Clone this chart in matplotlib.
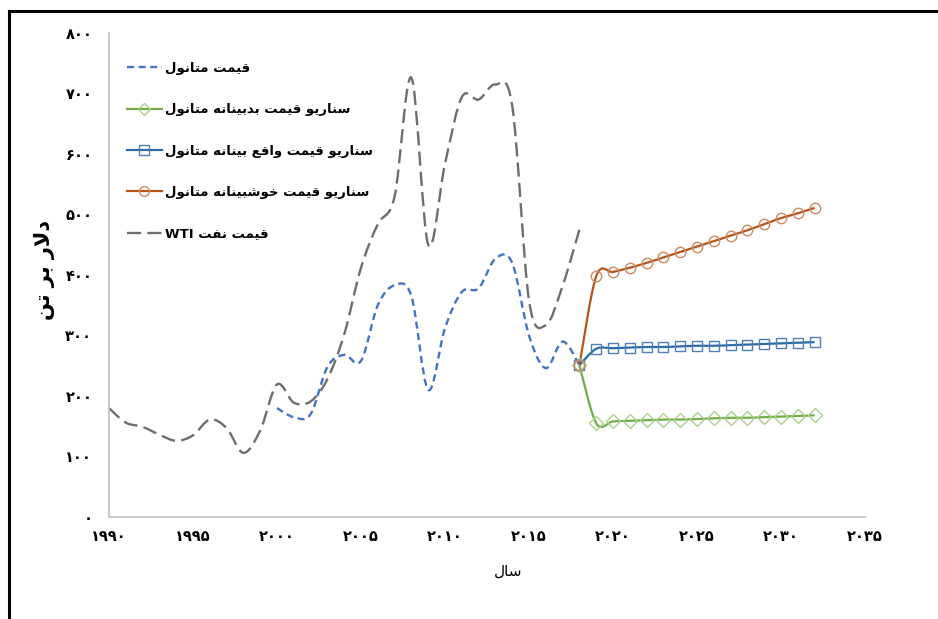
import matplotlib

matplotlib.use("Agg")
import matplotlib.pyplot as plt
import numpy as np
from matplotlib.lines import Line2D
from matplotlib.patches import PathPatch
from matplotlib.path import Path

# --- data ($/tonne) -------------------------------------------------------
hist_years = list(range(1990, 2019))
wti = [180, 156, 149, 136, 126, 135, 161, 147, 106, 143,
       219, 189, 191, 228, 302, 412, 484, 530, 726, 450,
       584, 694, 690, 715, 680, 358, 317, 382, 475]
methanol_years = list(range(2000, 2019))
methanol = [180, 165, 170, 248, 268, 258, 350, 383, 365, 210,
            312, 372, 378, 427, 420, 300, 246, 290, 251]
scenario_years = list(range(2018, 2033))
pessimistic = [251, 155, 158, 159, 160, 161, 161, 162, 163, 164, 164, 165, 166, 167, 168]
realistic = [251, 278, 279, 280, 281, 281, 282, 283, 283, 284, 285, 286, 287, 288, 289]
optimistic = [251, 398, 405, 412, 420, 429, 438, 447, 456, 465, 474, 484, 494, 502, 511]

x_ticks = [1990, 1995, 2000, 2005, 2010, 2015, 2020, 2025, 2030, 2035]
y_ticks = [0, 100, 200, 300, 400, 500, 600, 700, 800]

lbl_methanol = "قیمت متانول"
lbl_pess = "سناریو قیمت بدبینانه متانول"
lbl_real = "سناریو قیمت واقع بینانه متانول"
lbl_opt = "سناریو قیمت خوشبینانه متانول"
lbl_wti = "قیمت نفت WTI"
x_title = "سال"
y_title = "دلار بر تن"

C_METH = "#4472C4"
C_PESS = "#70AD47"
C_REAL = "#2E6AA6"
C_OPT = "#B5551B"
C_WTI = "#6E6E6E"
C_AXIS = "#BFBFBF"

# --- minimal Arabic/Persian shaping (matplotlib has no text shaping) -------
# isolated, final, initial, medial presentation forms
FORMS = {
    "ا": (0xFE8D, 0xFE8E, None, None),
    "ب": (0xFE8F, 0xFE90, 0xFE91, 0xFE92),
    "ت": (0xFE95, 0xFE96, 0xFE97, 0xFE98),
    "خ": (0xFEA5, 0xFEA6, 0xFEA7, 0xFEA8),
    "د": (0xFEA9, 0xFEAA, None, None),
    "ر": (0xFEAD, 0xFEAE, None, None),
    "س": (0xFEB1, 0xFEB2, 0xFEB3, 0xFEB4),
    "ش": (0xFEB5, 0xFEB6, 0xFEB7, 0xFEB8),
    "ع": (0xFEC9, 0xFECA, 0xFECB, 0xFECC),
    "ف": (0xFED1, 0xFED2, 0xFED3, 0xFED4),
    "ق": (0xFED5, 0xFED6, 0xFED7, 0xFED8),
    "ل": (0xFEDD, 0xFEDE, 0xFEDF, 0xFEE0),
    "م": (0xFEE1, 0xFEE2, 0xFEE3, 0xFEE4),
    "ن": (0xFEE5, 0xFEE6, 0xFEE7, 0xFEE8),
    "ه": (0xFEE9, 0xFEEA, 0xFEEB, 0xFEEC),
    "و": (0xFEED, 0xFEEE, None, None),
    "ی": (0xFBFC, 0xFBFD, 0xFBFE, 0xFBFF),
}
LAM_ALEF = (0xFEFB, 0xFEFC)


def _shape_word(word):
    out = []
    i = 0
    prev_joins = False
    while i < len(word):
        ch = word[i]
        if ch not in FORMS:
            out.append(ch)
            prev_joins = False
            i += 1
            continue
        if ch == "ل" and i + 1 < len(word) and word[i + 1] == "ا":
            out.append(chr(LAM_ALEF[1] if prev_joins else LAM_ALEF[0]))
            prev_joins = False
            i += 2
            continue
        iso, fin, ini, med = FORMS[ch]
        nxt = word[i + 1] if i + 1 < len(word) else None
        next_ok = ini is not None and nxt in FORMS
        if prev_joins and next_ok:
            out.append(chr(med))
        elif prev_joins:
            out.append(chr(fin))
        elif next_ok:
            out.append(chr(ini))
        else:
            out.append(chr(iso))
        prev_joins = next_ok
        i += 1
    return "".join(reversed(out))


def fa(text):
    """Return text in visual (left-to-right) order with joined letter forms."""
    words = []
    for w in text.split(" "):
        if any(c in FORMS for c in w):
            words.append(_shape_word(w))
        else:
            words.append(w)
    return " ".join(reversed(words))


def fa_digits(n):
    return str(n).translate(str.maketrans("0123456789", "۰۱۲۳۴۵۶۷۸۹"))


def smooth_path(xs, ys):
    # Bezier through every point, control points from neighbouring slopes
    pts = np.column_stack([xs, ys]).astype(float)
    n = len(pts)
    verts, codes = [pts[0]], [Path.MOVETO]
    for i in range(n - 1):
        p0 = pts[i - 1] if i > 0 else pts[i]
        p1, p2 = pts[i], pts[i + 1]
        p3 = pts[i + 2] if i + 2 < n else p2
        verts += [p1 + (p2 - p0) / 6, p2 - (p3 - p1) / 6, p2]
        codes += [Path.CURVE4] * 3
    return Path(verts, codes)


def add_curve(ax, xs, ys, color, ls, lw=1.6, z=2):
    ax.add_patch(PathPatch(smooth_path(xs, ys), fill=False, edgecolor=color,
                           linestyle=ls, linewidth=lw, capstyle="butt", zorder=z))


plt.rcParams["font.family"] = ["DejaVu Sans"]

fig = plt.figure(figsize=(9.38, 6.19), dpi=100)
ax = fig.add_axes([0.1162, 0.1648, 0.8060, 0.7819])

WTI_DASH = (0, (6, 2.6))
METH_DASH = (0, (3, 1.9))

add_curve(ax, hist_years, wti, C_WTI, WTI_DASH, lw=1.7)
add_curve(ax, methanol_years, methanol, C_METH, METH_DASH, lw=1.7)
add_curve(ax, scenario_years, pessimistic, C_PESS, "-", z=3)
add_curve(ax, scenario_years, realistic, C_REAL, "-", z=3)
add_curve(ax, scenario_years, optimistic, C_OPT, "-", z=3)

mk = dict(linestyle="none", markerfacecolor="none", markersize=7.5, markeredgewidth=1.0, zorder=4)
ax.plot(scenario_years, pessimistic, marker="D", markeredgecolor="#A9D18E", **mk)
ax.plot(scenario_years, realistic, marker="s", markeredgecolor="#4F7FB5", **mk)
ax.plot(scenario_years, optimistic, marker="o", markeredgecolor="#CE8A62", **mk)

ax.set_xlim(1990, 2035)
ax.set_ylim(0, 800)
ax.set_xticks(x_ticks)
ax.set_xticklabels([fa_digits(v) for v in x_ticks], fontweight="bold", fontsize=10.5)
ax.set_yticks(y_ticks)
ax.set_yticklabels([fa_digits(v) for v in y_ticks], fontweight="bold", fontsize=10.5)
ax.tick_params(axis="both", length=0)
ax.tick_params(axis="x", pad=9)
ax.tick_params(axis="y", pad=12)
for s in ("top", "right"):
    ax.spines[s].set_visible(False)
for s in ("left", "bottom"):
    ax.spines[s].set_color(C_AXIS)
    ax.spines[s].set_linewidth(1.2)

ax.set_xlabel(fa(x_title), fontsize=11)
ax.xaxis.set_label_coords(0.5275, -0.0964)
ax.set_ylabel(fa(y_title), fontsize=15, fontweight="bold")
ax.yaxis.set_label_coords(-0.0714, 0.51)

handles = [
    Line2D([], [], color=C_METH, lw=1.7, linestyle=METH_DASH),
    Line2D([], [], color=C_PESS, lw=1.6, marker="D", markersize=6,
           markerfacecolor="none", markeredgecolor="#A9D18E"),
    Line2D([], [], color=C_REAL, lw=1.6, marker="s", markersize=7,
           markerfacecolor="none", markeredgecolor="#4F7FB5"),
    Line2D([], [], color=C_OPT, lw=1.6, marker="o", markersize=7,
           markerfacecolor="none", markeredgecolor="#CE8A62"),
    Line2D([], [], color=C_WTI, lw=1.7, linestyle=WTI_DASH),
]
labels = [fa(t) for t in (lbl_methanol, lbl_pess, lbl_real, lbl_opt, lbl_wti)]
leg = ax.legend(handles, labels, loc="upper left", bbox_to_anchor=(0.008, 0.965),
                frameon=False, handlelength=2.65, handletextpad=0.25,
                labelspacing=2.15, prop={"weight": "bold", "size": 9.5})

# outer frame of the figure panel
fig.add_artist(Line2D([0.0096, 0.0096], [0.0, 0.982], color="black", lw=2.2,
                      transform=fig.transFigure))
fig.add_artist(Line2D([0.0096, 1.0], [0.982, 0.982], color="black", lw=2.2,
                      transform=fig.transFigure))

fig.savefig("out.png", dpi=100)
